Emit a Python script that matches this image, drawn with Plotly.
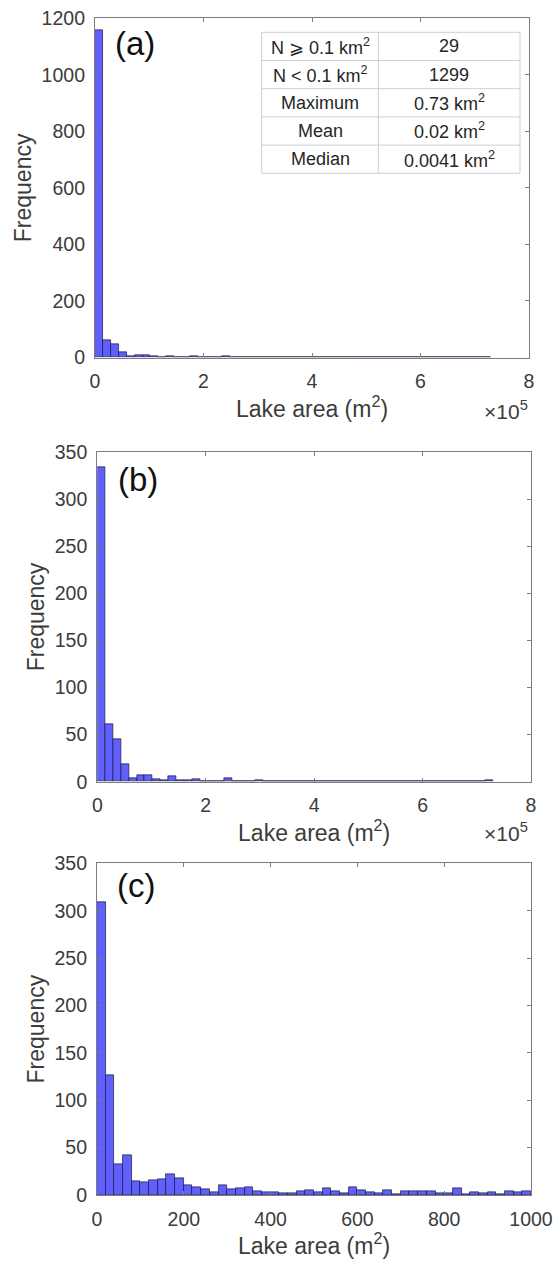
import plotly.graph_objects as go

# ---- data -------------------------------------------------------------
# (a) all lakes, 50 equal bins between 0 and the maximum area (0.73 km^2)
AREA_MAX_M2 = 730000
counts_a = [1159, 61, 45, 19, 4, 7, 7, 3, 1, 6, 2, 1, 3, 0, 0, 0, 4, 0, 0, 0,
            2, 0, 0, 0, 0, 0, 0, 0, 0, 0, 0, 0, 0, 0, 0, 0, 0, 0, 0, 0,
            0, 0, 0, 0, 0, 0, 0, 0, 0, 1]
# (b) same binning, subset of lakes
counts_b = [334, 61, 45, 19, 4, 7, 7, 3, 1, 6, 2, 1, 3, 0, 0, 0, 4, 0, 0, 0,
            2, 0, 0, 0, 0, 0, 0, 0, 0, 0, 0, 0, 0, 0, 0, 0, 0, 0, 0, 0,
            0, 0, 0, 0, 0, 0, 0, 0, 0, 1]
# (c) small lakes, 0-1000 m^2 in 20 m^2 bins
SMALL_MAX_M2 = 1000
counts_c = [309, 126, 32, 42, 14, 13, 16, 17, 22, 18, 10, 8, 6, 3, 10, 6, 7, 8, 4, 3,
            3, 2, 2, 4, 5, 3, 7, 4, 2, 8, 5, 3, 2, 5, 1, 4, 4, 4, 4, 2,
            2, 7, 1, 3, 2, 3, 1, 4, 3, 4]

# summary table
table_labels = ["N \u2a7e 0.1 km<sup>2</sup>", "N < 0.1 km<sup>2</sup>",
                "Maximum", "Mean", "Median"]
table_values = ["29", "1299", "0.73 km<sup>2</sup>", "0.02 km<sup>2</sup>",
                "0.0041 km<sup>2</sup>"]

x_ticks_big = [0, 200000, 400000, 600000, 800000]
x_ticktext_big = ["0", "2", "4", "6", "8"]
x_ticks_small = [0, 200, 400, 600, 800, 1000]
y_ticks_a = [0, 200, 400, 600, 800, 1000, 1200]
y_ticks_bc = [0, 50, 100, 150, 200, 250, 300, 350]
panel_tags = ["(a)", "(b)", "(c)"]

# ---- figure geometry (pixels) ----------------------------------------
W, H = 555, 1261
FONT = "Liberation Sans, Arial, sans-serif"
TICK_COLOR = "#3c3c3c"
LINE_COLOR = "#7d7d7d"
BAR_FILL = "rgb(96,96,252)"
BAR_EDGE = "rgba(20,20,60,0.75)"


def px(x):
    return x / W


def py(y):
    return 1 - y / H


# plot boxes: left, right, top, bottom
boxes = [(95, 529, 18.3, 357.5), (97.3, 531, 452.3, 781.7), (97, 531, 863.3, 1195)]


def bins(n, hi):
    w = hi / n
    return [w * (i + 0.5) for i in range(n)], w


fig = go.Figure()
series = [
    (counts_a, AREA_MAX_M2),
    (counts_b, AREA_MAX_M2),
    (counts_c, SMALL_MAX_M2),
]
for i, (cnt, hi) in enumerate(series):
    centers, w = bins(len(cnt), hi)
    fig.add_trace(go.Bar(
        x=centers, y=cnt, width=w,
        marker=dict(color=BAR_FILL, line=dict(color=BAR_EDGE, width=0.9)),
        xaxis=f"x{i + 1 if i else ''}", yaxis=f"y{i + 1 if i else ''}",
        showlegend=False, hoverinfo="x+y",
    ))

axis_common = dict(
    showline=True, linecolor=LINE_COLOR, linewidth=1.2, mirror="ticks",
    ticks="inside", ticklen=4, tickcolor=LINE_COLOR, tickwidth=1,
    showgrid=False, zeroline=False, automargin=False,
    tickfont=dict(family=FONT, size=19.5, color=TICK_COLOR),
)
title_font = dict(family=FONT, size=23, color=TICK_COLOR)

layout = dict(
    width=W, height=H, autosize=False,
    margin=dict(l=0, r=0, t=0, b=0),
    paper_bgcolor="white", plot_bgcolor="white",
    bargap=0, font=dict(family=FONT),
)

for i, (l, r, t, b) in enumerate(boxes):
    sfx = str(i + 1) if i else ""
    xa = dict(axis_common, domain=[px(l), px(r)], anchor=f"y{sfx}",
              ticklabelstandoff=6,
              title=dict(text="Lake area (m<sup>2</sup>)", font=title_font, standoff=5))
    ya = dict(axis_common, domain=[py(b), py(t)], anchor=f"x{sfx}",
              ticklabelstandoff=5,
              title=dict(text="Frequency", font=title_font, standoff=3))
    if i < 2:
        xa.update(range=[0, 800000], tickvals=x_ticks_big, ticktext=x_ticktext_big)
    else:
        xa.update(range=[0, 1000], tickvals=x_ticks_small)
    if i == 0:
        ya.update(range=[0, 1200], tickvals=y_ticks_a)
    else:
        ya.update(range=[0, 350], tickvals=y_ticks_bc)
    layout[f"xaxis{sfx}"] = xa
    layout[f"yaxis{sfx}"] = ya

fig.update_layout(**layout)

annotations = []
# panel tags
tag_pos = [(113, 44), (116, 479), (115, 886)]
for tag, (tx, ty) in zip(panel_tags, tag_pos):
    annotations.append(dict(
        text=tag, x=px(tx), y=py(ty), xref="paper", yref="paper",
        xanchor="left", yanchor="middle", showarrow=False,
        font=dict(family=FONT, size=33, color="#111111"),
    ))

# x10^5 multiplier for the two wide axes
for yy in (410, 832):
    annotations.append(dict(
        text="\u00d710<sup>5</sup>", x=px(530), y=py(yy), xref="paper", yref="paper",
        xanchor="right", yanchor="middle", showarrow=False,
        font=dict(family=FONT, size=21, color=TICK_COLOR),
    ))

# summary table inside panel (a)
T_L, T_R, T_T, T_B, T_MID = 261.7, 520, 32.3, 173.3, 378.3
row_h = (T_B - T_T) / len(table_labels)
shapes = [dict(type="rect", xref="paper", yref="paper",
               x0=px(T_L), x1=px(T_R), y0=py(T_B), y1=py(T_T),
               line=dict(color="#cfcfcf", width=1), fillcolor="white", layer="above")]
shapes.append(dict(type="line", xref="paper", yref="paper",
                   x0=px(T_MID), x1=px(T_MID), y0=py(T_B), y1=py(T_T),
                   line=dict(color="#cfcfcf", width=1), layer="above"))
for k in range(1, len(table_labels)):
    yk = T_T + k * row_h
    shapes.append(dict(type="line", xref="paper", yref="paper",
                       x0=px(T_L), x1=px(T_R), y0=py(yk), y1=py(yk),
                       line=dict(color="#cfcfcf", width=1), layer="above"))
for k, (lab, val) in enumerate(zip(table_labels, table_values)):
    yc = T_T + (k + 0.5) * row_h
    for txt, xc in ((lab, (T_L + T_MID) / 2), (val, (T_MID + T_R) / 2)):
        annotations.append(dict(
            text=txt, x=px(xc), y=py(yc), xref="paper", yref="paper",
            xanchor="center", yanchor="middle", showarrow=False,
            font=dict(family=FONT, size=18, color="#262626"),
        ))

fig.update_layout(annotations=annotations, shapes=shapes)
fig.write_html("out.html")
